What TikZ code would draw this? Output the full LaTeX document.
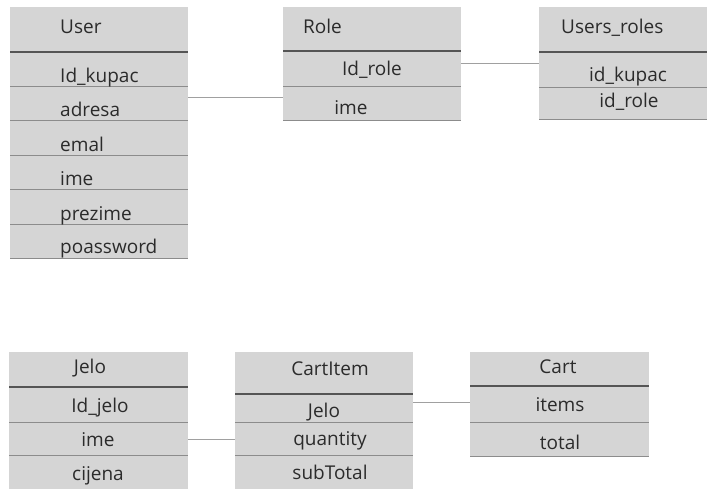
\documentclass[tikz,border=0pt]{standalone}
\usepackage{fontspec}
\setmainfont{Open Sans}
\definecolor{boxgray}{HTML}{D5D5D5}
\definecolor{txtgray}{HTML}{2B2B2B}
\definecolor{hdgray}{HTML}{555555}
\definecolor{rowgray}{HTML}{8C8C8C}
\definecolor{linkgray}{HTML}{A0A0A0}
\begin{document}
\begin{tikzpicture}[x=1pt, y=-1pt,
		entity/.style={fill=boxgray, inner sep=0pt, outer sep=0pt, anchor=north west, minimum width=178pt},
		attr/.style={inner sep=0pt, text=txtgray, font=\fontsize{19}{22}\selectfont},
		headline/.style={draw=hdgray, line width=1.6pt},
		rowline/.style={draw=rowgray, line width=1pt},
		link/.style={draw=linkgray, line width=0.8pt}]
		\useasboundingbox (0,0) rectangle (707,489);
		% table User
		\node[entity, minimum height=252pt] (user) at (10,7) {};
		\draw[headline] (user.west |- 0,52) -- (user.east |- 0,52);
		\foreach \y in {87,121,156,190,225,259}
		{
			\draw[rowline] (user.west |- 0,\y) -- (user.east |- 0,\y);
		}
		\node[attr, anchor=base west] (user-title) at (60,34) {User};
		\foreach \txt/\y [count=\i] in {Id\_kupac/83, adresa/117, emal/152, ime/186, prezime/221, poassword/254}
		{
			\node[attr, anchor=base west] (user-\i) at (60,\y) {\txt};
		}
		% table Role
		\node[entity, minimum height=114pt] (role) at (283,7) {};
		\draw[headline] (role.west |- 0,51) -- (role.east |- 0,51);
		\foreach \y in {87,121}
		{
			\draw[rowline] (role.west |- 0,\y) -- (role.east |- 0,\y);
		}
		\node[attr, anchor=base west] (role-title) at (303,34) {Role};
		\node[attr, anchor=base] (role-1) at (372,76) {Id\_role};
		\node[attr, anchor=base] (role-2) at (351,115) {ime};
		% table Users_roles
		\node[entity, minimum width=168pt, minimum height=113pt] (usersroles) at (539,7) {};
		\draw[headline] (usersroles.west |- 0,52) -- (usersroles.east |- 0,52);
		\foreach \y in {88,120}
		{
			\draw[rowline] (usersroles.west |- 0,\y) -- (usersroles.east |- 0,\y);
		}
		\node[attr, anchor=base west] (usersroles-title) at (561,34) {Users\_roles};
		\node[attr, anchor=base] (usersroles-1) at (628,82) {id\_kupac};
		\node[attr, anchor=base] (usersroles-2) at (629,108) {id\_role};
		% table Jelo
		\node[entity, minimum width=179pt, minimum height=137pt] (jelo) at (9,352) {};
		\draw[headline] (jelo.west |- 0,387) -- (jelo.east |- 0,387);
		\foreach \y in {422,455}
		{
			\draw[rowline] (jelo.west |- 0,\y) -- (jelo.east |- 0,\y);
		}
		\node[attr, anchor=base] (jelo-title) at (90,373) {Jelo};
		\foreach \txt/\x/\y [count=\i] in {Id\_jelo/100/412, ime/98/446, cijena/98/480}
		{
			\node[attr, anchor=base] (jelo-\i) at (\x,\y) {\txt};
		}
		% table CartItem
		\node[entity, minimum height=137pt] (cartitem) at (235,352) {};
		\draw[headline] (cartitem.west |- 0,394) -- (cartitem.east |- 0,394);
		\foreach \y in {422,455}
		{
			\draw[rowline] (cartitem.west |- 0,\y) -- (cartitem.east |- 0,\y);
		}
		\node[attr, anchor=base] (cartitem-title) at (330,375) {CartItem};
		\foreach \txt/\x/\y [count=\i] in {Jelo/324/417, quantity/330/445, subTotal/330/479}
		{
			\node[attr, anchor=base] (cartitem-\i) at (\x,\y) {\txt};
		}
		% table Cart
		\node[entity, minimum width=179pt, minimum height=104pt] (cart) at (470,352) {};
		\draw[headline] (cart.west |- 0,386) -- (cart.east |- 0,386);
		\foreach \y in {422,456}
		{
			\draw[rowline] (cart.west |- 0,\y) -- (cart.east |- 0,\y);
		}
		\node[attr, anchor=base] (cart-title) at (558,373) {Cart};
		\node[attr, anchor=base] (cart-1) at (560,411) {items};
		\node[attr, anchor=base] (cart-2) at (560,449) {total};
		% relations
		\draw[link] (user.east |- 0,97) -- (role.west |- 0,97);
		\draw[link] (role.east |- 0,63) -- (usersroles.west |- 0,63);
		\draw[link] (jelo.east |- 0,439) -- (cartitem.west |- 0,439);
		\draw[link] (cartitem.east |- 0,402) -- (cart.west |- 0,402);
	\end{tikzpicture}
\end{document}
